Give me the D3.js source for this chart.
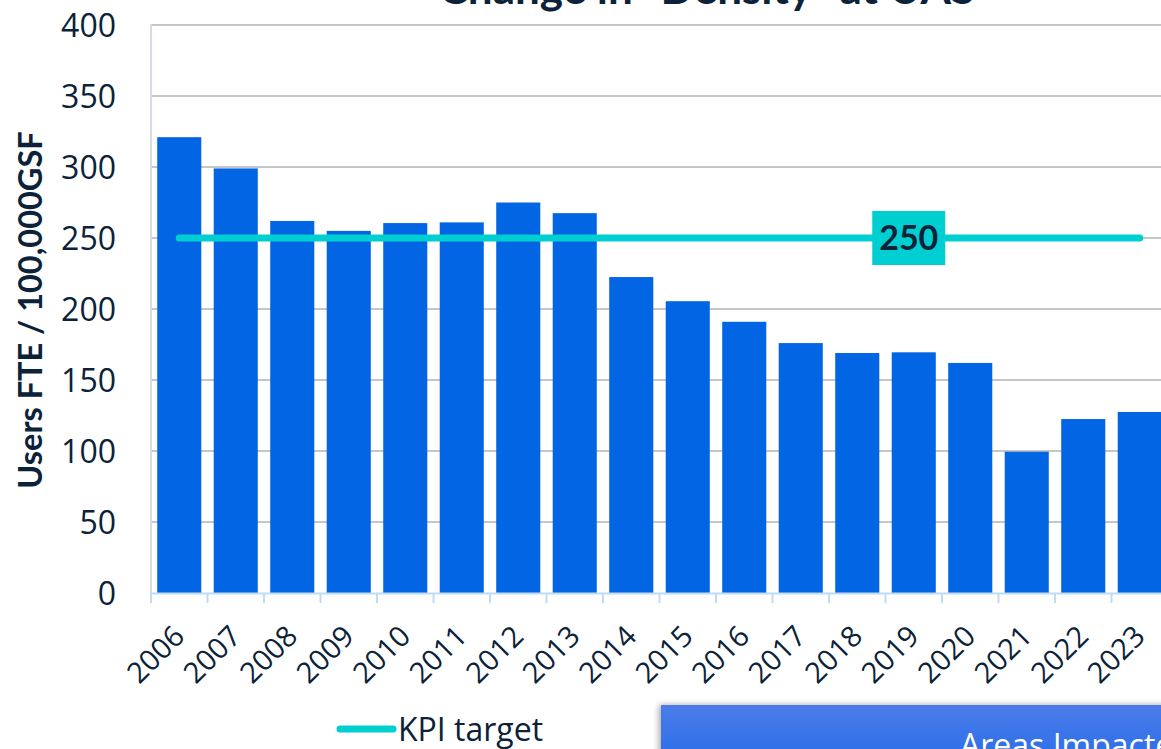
<!DOCTYPE html>
<html>
<head>
<meta charset="utf-8">
<script src="https://cdn.jsdelivr.net/npm/d3@7"></script>
<style>
  html, body { margin: 0; padding: 0; background: #fff; overflow: hidden; }
  svg { display: block; }
</style>
</head>
<body>
<svg id="chart" width="1161" height="749"></svg>
<script>
const years = ["2006","2007","2008","2009","2010","2011","2012","2013","2014","2015","2016","2017","2018","2019","2020","2021","2022","2023"];
const density = [321, 299, 262, 255, 260.5, 261, 275, 267.5, 222.5, 205.5, 191, 176, 169, 169.5, 162, 99.5, 122.5, 127.5];
const kpiTarget = years.map(() => 250);
const yTicks = [0, 50, 100, 150, 200, 250, 300, 350, 400];
const titleText = "Change in \u201CDensity\u201D at UAS";
const yAxisTitle = "Users FTE / 100,000GSF";
const legendLabel = "KPI target";
const kpiLabelYear = "2019";
const boxText = "Areas Impacted";

const navy = "#0b2239";
const barColor = "#0266e4";
const teal = "#00cfd2";

const svg = d3.select("#chart");
const plotLeft = 151, plotTop = 25, plotBottom = 593;
const step = 56.5;
const plotRight = plotLeft + step * years.length;

const x = d3.scaleBand().domain(years).range([plotLeft, plotRight]).paddingInner(0.22).paddingOuter(0.11);
const y = d3.scaleLinear().domain([0, 400]).range([plotBottom, plotTop]);

const defs = svg.append("defs");
const grad = defs.append("linearGradient").attr("id", "boxGrad").attr("x1", 0).attr("y1", 0).attr("x2", 0).attr("y2", 1);
grad.append("stop").attr("offset", "0%").attr("stop-color", "#4a7ce9");
grad.append("stop").attr("offset", "100%").attr("stop-color", "#1f67e6");
const shadow = defs.append("filter").attr("id", "shadow").attr("x", "-5%").attr("y", "-20%").attr("width", "110%").attr("height", "150%");
shadow.append("feDropShadow").attr("dx", -2).attr("dy", 0).attr("stdDeviation", 3).attr("flood-color", "#000").attr("flood-opacity", 0.35);

// gridlines
svg.append("g").selectAll("line").data(yTicks.filter(d => d > 0)).join("line")
  .attr("x1", plotLeft).attr("x2", 1161)
  .attr("y1", d => y(d)).attr("y2", d => y(d))
  .attr("stroke", "#c6c6c6").attr("stroke-width", 2);

// y axis line
svg.append("line").attr("x1", plotLeft).attr("x2", plotLeft).attr("y1", plotTop).attr("y2", plotBottom)
  .attr("stroke", "#d8dde3").attr("stroke-width", 2);

// bars
svg.append("g").selectAll("rect").data(years).join("rect")
  .attr("x", d => x(d)).attr("width", x.bandwidth())
  .attr("y", (d, i) => y(density[i])).attr("height", (d, i) => y(0) - y(density[i]))
  .attr("fill", barColor);

// x axis
const xAxis = d3.axisBottom(x).tickSize(0).tickFormat(d => d);
const gx = svg.append("g").attr("transform", `translate(0,${plotBottom})`).call(xAxis);
gx.select(".domain").attr("stroke", "#bfdcf5").attr("stroke-width", 2);
gx.selectAll(".tick text").remove();
// tick marks at band boundaries
const bounds = years.map(d => x(d) - x.step() * x.paddingInner() / 2);
bounds.push(plotRight);
svg.append("g").selectAll("line").data(bounds).join("line")
  .attr("x1", d => d).attr("x2", d => d).attr("y1", plotBottom).attr("y2", plotBottom + 10)
  .attr("stroke", "#bfdcf5").attr("stroke-width", 2);

svg.append("g").selectAll("text").data(years).join("text")
  .attr("transform", d => `translate(${x(d) + x.bandwidth() / 2 + 7},638) rotate(-45)`)
  .attr("text-anchor", "end")
  .attr("font-family", "'Open Sans', sans-serif").attr("font-size", 29).attr("fill", navy)
  .text(d => d);

// y axis labels
const yAxis = d3.axisLeft(y).tickValues(yTicks).tickSize(0).tickPadding(0);
const gy = svg.append("g").attr("transform", `translate(116,0)`).call(yAxis);
gy.select(".domain").remove();
gy.selectAll(".tick text").attr("font-family", "'Open Sans', sans-serif").attr("font-size", 32).attr("fill", navy).attr("dy", "0.36em");

// KPI line
const line = d3.line().x((d, i) => x(years[i]) + x.bandwidth() / 2).y(d => y(d));
svg.append("path").datum(kpiTarget).attr("d", line)
  .attr("fill", "none").attr("stroke", teal).attr("stroke-width", 7).attr("stroke-linecap", "round");

// KPI label
const li = years.indexOf(kpiLabelYear);
const lx = x(kpiLabelYear) + x.bandwidth() / 2 - 5;
const ly = y(kpiTarget[li]);
svg.append("rect").attr("x", lx - 36.5).attr("y", ly - 27).attr("width", 73).attr("height", 54).attr("fill", teal);
svg.append("text").attr("x", lx).attr("y", ly).attr("dy", "0.36em").attr("text-anchor", "middle")
  .attr("font-family", "Lato, sans-serif").attr("font-weight", "bold").attr("font-size", 34).attr("fill", navy)
  .text(kpiTarget[li]);

// title (cut at top)
svg.append("text").attr("x", 707).attr("y", 4).attr("text-anchor", "middle")
  .attr("font-family", "Lato, sans-serif").attr("font-weight", "bold").attr("font-size", 44).attr("fill", navy)
  .text(titleText);

// y axis title
svg.append("text").attr("transform", "translate(42,310) rotate(-90)").attr("text-anchor", "middle")
  .attr("font-family", "Lato, sans-serif").attr("font-weight", "bold").attr("font-size", 32.5).attr("fill", navy)
  .text(yAxisTitle);

// legend
svg.append("line").attr("x1", 340).attr("x2", 393).attr("y1", 729).attr("y2", 729)
  .attr("stroke", teal).attr("stroke-width", 7).attr("stroke-linecap", "round");
svg.append("text").attr("x", 398).attr("y", 729).attr("dy", "0.36em")
  .attr("font-family", "'Open Sans', sans-serif").attr("font-size", 32).attr("fill", navy)
  .text(legendLabel);

// bottom-right box
svg.append("rect").attr("x", 661).attr("y", 705).attr("width", 520).attr("height", 80)
  .attr("fill", "url(#boxGrad)").attr("filter", "url(#shadow)");
svg.append("text").attr("x", 960).attr("y", 757)
  .attr("font-family", "'Open Sans', sans-serif").attr("font-size", 32).attr("fill", "#fff")
  .text(boxText);
</script>
</body>
</html>
